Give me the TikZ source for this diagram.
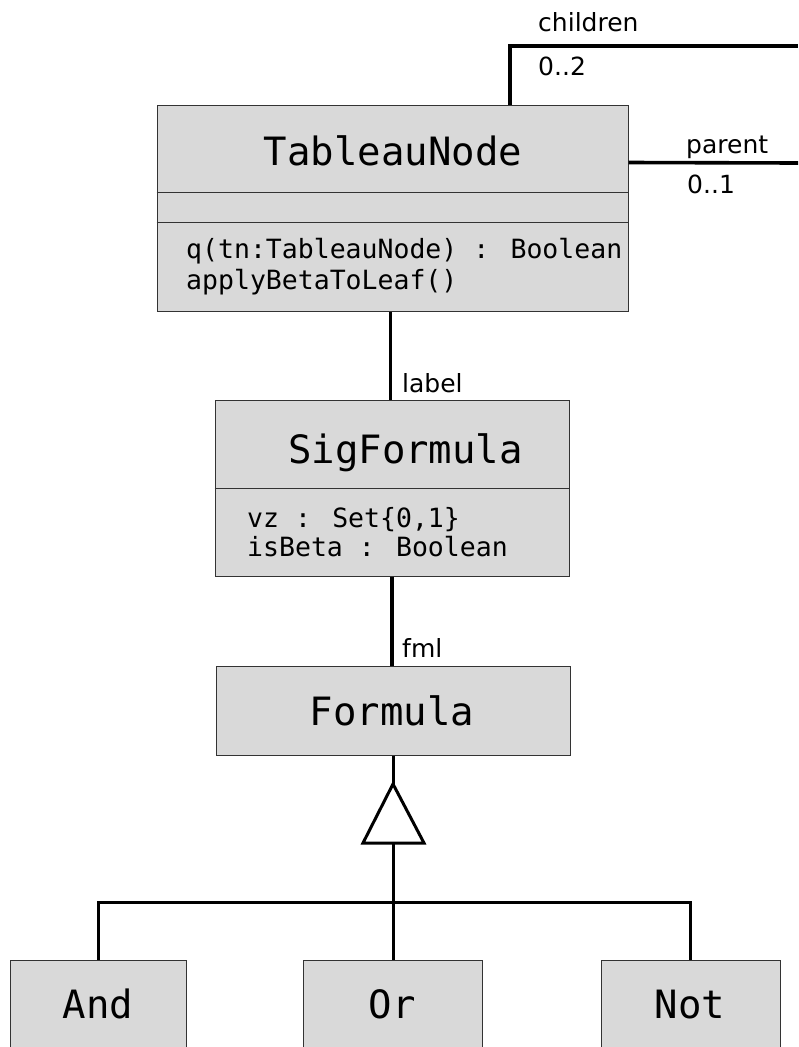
\documentclass[tikz,border=0pt]{standalone}
\usepackage{fontspec}
\setmainfont{DejaVu Sans}
\newfontfamily\monofam{DejaVu Sans Mono}
\begin{document}
\begin{tikzpicture}[x=1pt,y=-1pt,
  classbox/.style={draw=black!80, line width=1pt, fill=boxgray, rectangle, inner sep=0pt},
  sepline/.style={draw=black!80, line width=1pt},
  conn/.style={draw=black, line width=3.6pt},
  gen/.style={draw=black, line width=3pt},
  titletext/.style={font=\monofam\fontsize{39}{44}\selectfont, inner sep=0pt, anchor=base},
  membertext/.style={font=\monofam\fontsize{26.5}{30}\selectfont, inner sep=0pt, anchor=base west},
  roletext/.style={font=\fontsize{25}{28}\selectfont, inner sep=0pt, anchor=base west}]
\definecolor{boxgray}{HTML}{D9D9D9}
\useasboundingbox (0,0) rectangle (798,1047);
\clip (0,0) rectangle (798,1047);
\fill[white] (0,0) rectangle (798,1047);

% TableauNode
\node[classbox, minimum width=471pt, minimum height=206pt] (tn) at (392.5,208) {};
\draw[sepline] ([yshift=-88pt]tn.north west) -- ([yshift=-88pt]tn.north east);
\draw[sepline] ([yshift=-118pt]tn.north west) -- ([yshift=-118pt]tn.north east);
\node[titletext] (tnT) at (393,165) {TableauNode};
\node[membertext] (tnM1) at (186,258) {q(tn:TableauNode) : Boolean};
\node[membertext] (tnM2) at (186,289) {applyBetaToLeaf()};

% SigFormula
\node[classbox, minimum width=354pt, minimum height=176pt] (sf) at (392,488) {};
\draw[sepline] ([yshift=-89pt]sf.north west) -- ([yshift=-89pt]sf.north east);
\node[titletext] (sfT) at (405.5,463) {SigFormula};
\node[membertext] (sfA1) at (247,527) {vz : Set\{0,1\}};
\node[membertext] (sfA2) at (247,556) {isBeta : Boolean};

% Formula
\node[classbox, minimum width=354pt, minimum height=89pt] (fo) at (393,710.5) {};
\node[titletext] (foT) at (392,725) {Formula};

% Subclasses
\node[classbox, minimum width=176pt, minimum height=130pt] (and) at (98,1025) {};
\node[classbox, minimum width=179pt, minimum height=130pt] (or) at (393,1025) {};
\node[classbox, minimum width=179pt, minimum height=130pt] (not) at (690.5,1025) {};
\node[titletext] (andT) at (98,1018) {And};
\node[titletext] (orT) at (392,1018) {Or};
\node[titletext] (notT) at (690,1018) {Not};

% self associations
\coordinate (chEnd) at (798,46);
\coordinate (parEnd) at (798,163);
\draw[conn] ([xshift=117.5pt]tn.north) |- (chEnd);
\draw[conn] ([yshift=-58pt]tn.north east) -- (parEnd);
\node[roletext] (lchildren) at (538,31) {children};
\node[roletext] (lch) at (538,75) {0..2};
\node[roletext] (lparent) at (686,153) {parent};
\node[roletext] (lpar) at (687,193) {0..1};

% associations
\draw[conn] ([xshift=-2pt]tn.south) -- ([xshift=-2pt]tn.south |- sf.north);
\node[roletext] (llabel) at (402,392) {label};
\draw[conn] (sf.south) -- (sf.south |- fo.north);
\node[roletext] (lfml) at (402,657) {fml};

% generalization
\coordinate (apex) at (393,784);
\coordinate (tbase) at (393,843);
\coordinate (bus) at (393,902);
\draw[gen] (fo.south) -- (apex);
\draw[gen, fill=white, line join=miter] (apex) -- (363,843) -- (424,843) -- cycle;
\draw[gen] (tbase) -- (bus);
\draw[gen] (and.north) |- (bus) -| (not.north);
\draw[gen] (bus) -- (or.north);
\end{tikzpicture}
\end{document}
